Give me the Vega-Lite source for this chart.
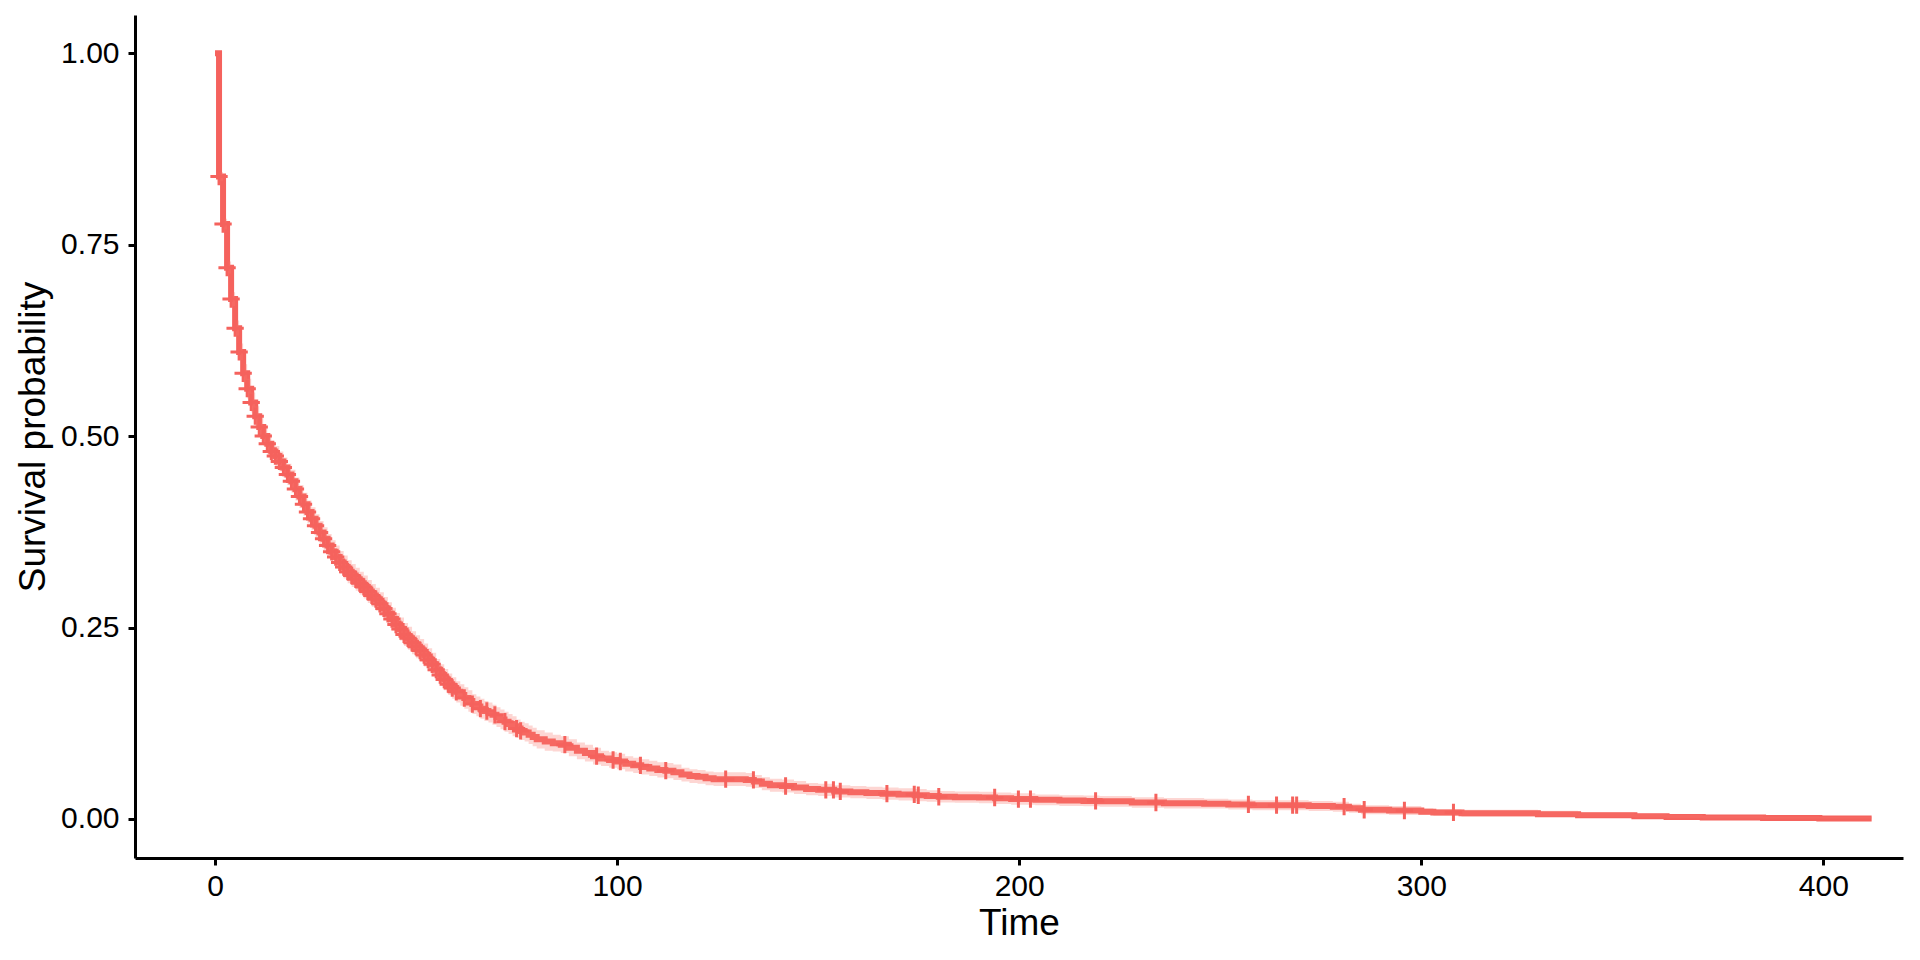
{
"$schema": "https://vega.github.io/schema/vega-lite/v6.json",
"width": 1768, "height": 843,
"autosize": {"type": "none"},
"padding": {"left": 135, "top": 15, "right": 17, "bottom": 102},
"background": "white",
"config": {
  "view": {"stroke": null},
  "font": "Liberation Sans",
  "axis": {"domainColor": "black", "domainWidth": 3, "tickColor": "black", "tickWidth": 3, "tickSize": 7,
    "labelColor": "black", "labelFontSize": 30, "labelFont": "Liberation Sans",
    "titleFontSize": 37, "titleColor": "black", "titleFontWeight": "normal", "titleFont": "Liberation Sans", "grid": false}
},
"datasets": {
"km": [
{"time":0,"surv":1,"lower":1,"upper":1},
{"time":1,"surv":0.839,"lower":0.833,"upper":0.845},
{"time":2,"surv":0.777,"lower":0.770,"upper":0.784},
{"time":3,"surv":0.720,"lower":0.712,"upper":0.728},
{"time":4,"surv":0.679,"lower":0.670,"upper":0.688},
{"time":5,"surv":0.641,"lower":0.631,"upper":0.651},
{"time":6,"surv":0.610,"lower":0.599,"upper":0.621},
{"time":7,"surv":0.582,"lower":0.570,"upper":0.594},
{"time":8,"surv":0.562,"lower":0.549,"upper":0.575},
{"time":9,"surv":0.544,"lower":0.531,"upper":0.557},
{"time":10,"surv":0.526,"lower":0.513,"upper":0.539},
{"time":11,"surv":0.512,"lower":0.499,"upper":0.525},
{"time":12,"surv":0.500,"lower":0.487,"upper":0.513},
{"time":13,"surv":0.490,"lower":0.477,"upper":0.503},
{"time":14,"surv":0.480,"lower":0.467,"upper":0.493},
{"time":15,"surv":0.474,"lower":0.461,"upper":0.487},
{"time":16,"surv":0.467,"lower":0.454,"upper":0.480},
{"time":17,"surv":0.459,"lower":0.446,"upper":0.472},
{"time":18,"surv":0.450,"lower":0.436,"upper":0.464},
{"time":19,"surv":0.441,"lower":0.426,"upper":0.456},
{"time":20,"surv":0.431,"lower":0.416,"upper":0.446},
{"time":21,"surv":0.421,"lower":0.406,"upper":0.436},
{"time":22,"surv":0.411,"lower":0.396,"upper":0.426},
{"time":23,"surv":0.401,"lower":0.386,"upper":0.416},
{"time":24,"surv":0.392,"lower":0.377,"upper":0.407},
{"time":25,"surv":0.383,"lower":0.368,"upper":0.398},
{"time":26,"surv":0.374,"lower":0.359,"upper":0.389},
{"time":27,"surv":0.366,"lower":0.351,"upper":0.381},
{"time":28,"surv":0.357,"lower":0.342,"upper":0.372},
{"time":29,"surv":0.349,"lower":0.334,"upper":0.364},
{"time":30,"surv":0.342,"lower":0.327,"upper":0.357},
{"time":31,"surv":0.335,"lower":0.320,"upper":0.350},
{"time":32,"surv":0.329,"lower":0.314,"upper":0.344},
{"time":33,"surv":0.323,"lower":0.308,"upper":0.338},
{"time":34,"surv":0.318,"lower":0.303,"upper":0.333},
{"time":35,"surv":0.313,"lower":0.298,"upper":0.328},
{"time":36,"surv":0.308,"lower":0.293,"upper":0.323},
{"time":37,"surv":0.303,"lower":0.288,"upper":0.318},
{"time":38,"surv":0.297,"lower":0.282,"upper":0.312},
{"time":39,"surv":0.292,"lower":0.277,"upper":0.307},
{"time":40,"surv":0.287,"lower":0.272,"upper":0.302},
{"time":41,"surv":0.281,"lower":0.266,"upper":0.296},
{"time":42,"surv":0.275,"lower":0.260,"upper":0.290},
{"time":43,"surv":0.268,"lower":0.253,"upper":0.283},
{"time":44,"surv":0.261,"lower":0.246,"upper":0.276},
{"time":45,"surv":0.254,"lower":0.239,"upper":0.269},
{"time":46,"surv":0.248,"lower":0.233,"upper":0.263},
{"time":47,"surv":0.241,"lower":0.226,"upper":0.256},
{"time":48,"surv":0.236,"lower":0.221,"upper":0.251},
{"time":49,"surv":0.230,"lower":0.215,"upper":0.245},
{"time":50,"surv":0.225,"lower":0.210,"upper":0.240},
{"time":51,"surv":0.220,"lower":0.205,"upper":0.235},
{"time":52,"surv":0.214,"lower":0.199,"upper":0.229},
{"time":53,"surv":0.208,"lower":0.193,"upper":0.223},
{"time":54,"surv":0.202,"lower":0.187,"upper":0.217},
{"time":55,"surv":0.195,"lower":0.181,"upper":0.209},
{"time":56,"surv":0.188,"lower":0.174,"upper":0.202},
{"time":57,"surv":0.182,"lower":0.168,"upper":0.196},
{"time":58,"surv":0.176,"lower":0.162,"upper":0.190},
{"time":59,"surv":0.171,"lower":0.157,"upper":0.185},
{"time":60,"surv":0.166,"lower":0.152,"upper":0.180},
{"time":61,"surv":0.162,"lower":0.148,"upper":0.176},
{"time":62,"surv":0.158,"lower":0.144,"upper":0.172},
{"time":63,"surv":0.154,"lower":0.140,"upper":0.168},
{"time":64,"surv":0.150,"lower":0.137,"upper":0.163},
{"time":65,"surv":0.147,"lower":0.134,"upper":0.160},
{"time":66,"surv":0.144,"lower":0.131,"upper":0.157},
{"time":67,"surv":0.141,"lower":0.128,"upper":0.154},
{"time":68,"surv":0.139,"lower":0.126,"upper":0.152},
{"time":69,"surv":0.136,"lower":0.123,"upper":0.149},
{"time":70,"surv":0.133,"lower":0.120,"upper":0.146},
{"time":71,"surv":0.130,"lower":0.117,"upper":0.143},
{"time":72,"surv":0.127,"lower":0.114,"upper":0.140},
{"time":73,"surv":0.124,"lower":0.111,"upper":0.137},
{"time":74,"surv":0.121,"lower":0.108,"upper":0.134},
{"time":75,"surv":0.118,"lower":0.106,"upper":0.130},
{"time":76,"surv":0.115,"lower":0.103,"upper":0.127},
{"time":77,"surv":0.113,"lower":0.101,"upper":0.125},
{"time":78,"surv":0.110,"lower":0.098,"upper":0.122},
{"time":79,"surv":0.107,"lower":0.095,"upper":0.119},
{"time":80,"surv":0.104,"lower":0.092,"upper":0.116},
{"time":82,"surv":0.101,"lower":0.089,"upper":0.113},
{"time":84,"surv":0.099,"lower":0.088,"upper":0.110},
{"time":86,"surv":0.097,"lower":0.086,"upper":0.108},
{"time":88,"surv":0.093,"lower":0.082,"upper":0.104},
{"time":90,"surv":0.089,"lower":0.078,"upper":0.100},
{"time":92,"surv":0.086,"lower":0.075,"upper":0.097},
{"time":94,"surv":0.082,"lower":0.071,"upper":0.093},
{"time":96,"surv":0.079,"lower":0.069,"upper":0.089},
{"time":98,"surv":0.077,"lower":0.067,"upper":0.087},
{"time":100,"surv":0.075,"lower":0.065,"upper":0.085},
{"time":102,"surv":0.072,"lower":0.062,"upper":0.082},
{"time":104,"surv":0.070,"lower":0.060,"upper":0.080},
{"time":106,"surv":0.068,"lower":0.058,"upper":0.078},
{"time":108,"surv":0.066,"lower":0.056,"upper":0.076},
{"time":110,"surv":0.064,"lower":0.054,"upper":0.074},
{"time":112,"surv":0.063,"lower":0.053,"upper":0.073},
{"time":114,"surv":0.061,"lower":0.051,"upper":0.071},
{"time":116,"surv":0.058,"lower":0.049,"upper":0.067},
{"time":118,"surv":0.056,"lower":0.047,"upper":0.065},
{"time":120,"surv":0.055,"lower":0.046,"upper":0.064},
{"time":122,"surv":0.053,"lower":0.044,"upper":0.062},
{"time":124,"surv":0.052,"lower":0.043,"upper":0.061},
{"time":132,"surv":0.051,"lower":0.042,"upper":0.060},
{"time":134,"surv":0.049,"lower":0.0405,"upper":0.0575},
{"time":136,"surv":0.046,"lower":0.0375,"upper":0.0545},
{"time":138,"surv":0.044,"lower":0.0355,"upper":0.0525},
{"time":141,"surv":0.043,"lower":0.0345,"upper":0.0515},
{"time":144,"surv":0.041,"lower":0.0325,"upper":0.0495},
{"time":147,"surv":0.039,"lower":0.031,"upper":0.047},
{"time":150,"surv":0.038,"lower":0.030,"upper":0.046},
{"time":154,"surv":0.036,"lower":0.028,"upper":0.044},
{"time":158,"surv":0.035,"lower":0.027,"upper":0.043},
{"time":162,"surv":0.034,"lower":0.026,"upper":0.042},
{"time":166,"surv":0.033,"lower":0.025,"upper":0.041},
{"time":170,"surv":0.032,"lower":0.024,"upper":0.040},
{"time":174,"surv":0.031,"lower":0.023,"upper":0.039},
{"time":177,"surv":0.030,"lower":0.0225,"upper":0.0375},
{"time":180,"surv":0.029,"lower":0.0215,"upper":0.0365},
{"time":184,"surv":0.0285,"lower":0.021,"upper":0.036},
{"time":190,"surv":0.028,"lower":0.0205,"upper":0.0355},
{"time":194,"surv":0.027,"lower":0.0195,"upper":0.0345},
{"time":198,"surv":0.026,"lower":0.0185,"upper":0.0335},
{"time":204,"surv":0.025,"lower":0.018,"upper":0.032},
{"time":210,"surv":0.024,"lower":0.017,"upper":0.031},
{"time":216,"surv":0.0235,"lower":0.0165,"upper":0.0305},
{"time":220,"surv":0.023,"lower":0.016,"upper":0.030},
{"time":228,"surv":0.0215,"lower":0.0145,"upper":0.0285},
{"time":236,"surv":0.0205,"lower":0.0135,"upper":0.0275},
{"time":246,"surv":0.020,"lower":0.0135,"upper":0.0265},
{"time":252,"surv":0.019,"lower":0.0125,"upper":0.0255},
{"time":258,"surv":0.018,"lower":0.0115,"upper":0.0245},
{"time":272,"surv":0.017,"lower":0.0105,"upper":0.0235},
{"time":278,"surv":0.016,"lower":0.0095,"upper":0.0225},
{"time":282,"surv":0.014,"lower":0.008,"upper":0.020},
{"time":285,"surv":0.012,"lower":0.006,"upper":0.018},
{"time":292,"surv":0.011,"lower":0.005,"upper":0.017},
{"time":300,"surv":0.0095,"lower":0.005,"upper":0.014},
{"time":303,"surv":0.0085,"lower":0.004,"upper":0.013},
{"time":310,"surv":0.0075,"lower":0.003,"upper":0.012},
{"time":329,"surv":0.0063,"lower":0.0028,"upper":0.0108},
{"time":339,"surv":0.0048,"lower":0.0022,"upper":0.0088},
{"time":353,"surv":0.0035,"lower":0.0015,"upper":0.0068},
{"time":361,"surv":0.0026,"lower":0.001,"upper":0.0056},
{"time":370,"surv":0.0018,"lower":0.0006,"upper":0.0043},
{"time":385,"surv":0.0012,"lower":0.0003,"upper":0.0033},
{"time":399,"surv":0.0006,"lower":0.0001,"upper":0.0024},
{"time":412,"surv":0.0006,"lower":0.0001,"upper":0.0024}
],
"cens": [
{"time":1,"surv":0.839},{"time":2,"surv":0.777},{"time":3,"surv":0.720},{"time":4,"surv":0.679},{"time":5,"surv":0.641},
{"time":6,"surv":0.610},{"time":7,"surv":0.582},{"time":8,"surv":0.562},{"time":9,"surv":0.544},{"time":10,"surv":0.526},
{"time":11,"surv":0.512},{"time":12,"surv":0.500},{"time":13,"surv":0.490},{"time":14,"surv":0.480},{"time":15,"surv":0.474},
{"time":16,"surv":0.467},{"time":17,"surv":0.459},{"time":18,"surv":0.450},{"time":19,"surv":0.441},{"time":20,"surv":0.431},
{"time":21,"surv":0.421},{"time":22,"surv":0.411},{"time":23,"surv":0.401},{"time":24,"surv":0.392},{"time":25,"surv":0.383},
{"time":26,"surv":0.374},{"time":27,"surv":0.366},{"time":28,"surv":0.357},{"time":29,"surv":0.349},{"time":30,"surv":0.342},
{"time":31,"surv":0.335},{"time":32,"surv":0.329},{"time":33,"surv":0.323},{"time":34,"surv":0.318},{"time":35,"surv":0.313},
{"time":36,"surv":0.308},{"time":37,"surv":0.303},{"time":38,"surv":0.297},{"time":39,"surv":0.292},{"time":40,"surv":0.287},
{"time":41,"surv":0.281},{"time":42,"surv":0.275},{"time":43,"surv":0.268},{"time":44,"surv":0.261},{"time":45,"surv":0.254},
{"time":46,"surv":0.248},{"time":47,"surv":0.241},{"time":48,"surv":0.236},{"time":49,"surv":0.230},{"time":50,"surv":0.225},
{"time":51,"surv":0.220},{"time":52,"surv":0.214},{"time":53,"surv":0.208},{"time":54,"surv":0.202},{"time":55,"surv":0.195},
{"time":56,"surv":0.188},{"time":57,"surv":0.182},{"time":58,"surv":0.176},{"time":59,"surv":0.171},{"time":60,"surv":0.166},
{"time":62,"surv":0.158},{"time":64,"surv":0.150},{"time":66,"surv":0.144},
{"time":67.6,"surv":0.141},{"time":69.6,"surv":0.136},{"time":72.1,"surv":0.127},{"time":75.0,"surv":0.118},{"time":76.0,"surv":0.115},
{"time":87.0,"surv":0.097},{"time":94.9,"surv":0.082},{"time":99.0,"surv":0.077},{"time":100.8,"surv":0.075},{"time":105.8,"surv":0.070},
{"time":112.1,"surv":0.063},{"time":127.0,"surv":0.052},{"time":133.9,"surv":0.051},{"time":141.9,"surv":0.043},{"time":151.9,"surv":0.038},
{"time":153.8,"surv":0.038},{"time":155.5,"surv":0.036},{"time":167.1,"surv":0.033},{"time":173.9,"surv":0.032},{"time":174.9,"surv":0.031},
{"time":180.0,"surv":0.029},{"time":193.9,"surv":0.028},{"time":199.8,"surv":0.026},{"time":202.8,"surv":0.026},{"time":219.0,"surv":0.0235},
{"time":234.0,"surv":0.0215},{"time":257.0,"surv":0.019},{"time":264.0,"surv":0.018},{"time":268.0,"surv":0.018},{"time":269.0,"surv":0.018},
{"time":280.8,"surv":0.016},{"time":285.8,"surv":0.012},{"time":295.8,"surv":0.011},{"time":308.0,"surv":0.0085}
]
},
"layer": [
 {"data": {"name": "km"},
  "mark": {"type": "line", "interpolate": "step-after", "color": "#F5625D", "strokeWidth": 6},
  "encoding": {
   "x": {"field": "time", "type": "quantitative", "title": "Time",
     "scale": {"domain": [-19.9, 419.8], "nice": false, "zero": false},
     "axis": {"values": [0, 100, 200, 300, 400], "labelPadding": 6, "titlePadding": 4}},
   "y": {"field": "surv", "type": "quantitative", "title": "Survival probability",
     "scale": {"domain": [-0.051, 1.05], "nice": false, "zero": false},
     "axis": {"values": [0, 0.25, 0.5, 0.75, 1], "format": ".2f", "labelPadding": 9, "titlePadding": 8}}}},
 {"data": {"name": "km"},
  "mark": {"type": "area", "interpolate": "step-after", "color": "#F8766D", "opacity": 0.3},
  "encoding": {
   "x": {"field": "time", "type": "quantitative", "title": "Time"},
   "y": {"field": "lower", "type": "quantitative", "title": "Survival probability"},
   "y2": {"field": "upper"}}},
 {"data": {"name": "cens"},
  "mark": {"type": "point", "shape": "M-1,0H1M0,-1V1", "size": 300, "strokeWidth": 3, "color": "#F5625D", "filled": false, "opacity": 1},
  "encoding": {
   "x": {"field": "time", "type": "quantitative", "title": "Time"},
   "y": {"field": "surv", "type": "quantitative", "title": "Survival probability"}}}
]
}
